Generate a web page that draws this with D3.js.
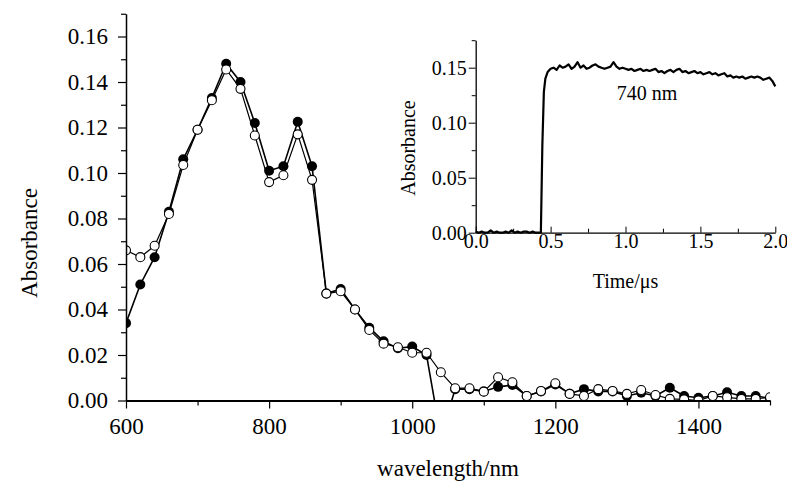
<!DOCTYPE html>
<html>
<head>
  <script src="https://cdnjs.cloudflare.com/ajax/libs/d3/7.8.5/d3.min.js"></script>
  <style>
    body { margin: 0; background: #fff; }
    text { font-family: "Liberation Serif", "Times New Roman", serif; fill: #000; }
    .axis path, .axis line { stroke: #000; }
    .axis text { font-family: "Liberation Serif", "Times New Roman", serif; fill: #000; }
  </style>
</head>
<body>
  <div id="graph"></div>
  <script>
    // Main spectrum data (every 20 nm)
    const wavelengths = d3.range(600, 1501, 20);
    const filledAbs = [
      0.034, 0.051, 0.063, 0.083, 0.106, 0.119, 0.133, 0.148, 0.140, 0.122,
      0.101, 0.103, 0.1225, 0.103, 0.047, 0.049, 0.040, 0.032, 0.026, 0.023,
      0.0237, 0.020, -0.016, 0.005, 0.005, 0.004, 0.006, 0.0068, 0.002, 0.004,
      0.007, 0.003, 0.005, 0.004, 0.004, 0.002, 0.0034, 0.002, 0.0056, 0.002,
      0.0012, 0.002, 0.0036, 0.002, 0.002, 0.001
    ];
    const openAbs = [
      0.066, 0.063, 0.068, 0.082, 0.1035, 0.119, 0.132, 0.1455, 0.137, 0.1165,
      0.096, 0.099, 0.117, 0.097, 0.047, 0.048, 0.040, 0.031, 0.025, 0.0234,
      0.021, 0.021, 0.0124, 0.0054, 0.0054, 0.0039, 0.0102, 0.008, 0.002, 0.0042,
      0.0076, 0.0029, 0.002, 0.005, 0.0042, 0.0029, 0.0046, 0.0024, 0.0007, 0.0005,
      0.000, 0.002, 0.0014, 0.0007, 0.0007, 0.0014
    ];
    const mainYTicks = [0, 0.02, 0.04, 0.06, 0.08, 0.10, 0.12, 0.14, 0.16];
    const mainYMinor = [0.01, 0.03, 0.05, 0.07, 0.09, 0.11, 0.13, 0.15, 0.17];
    const mainXTicks = [600, 800, 1000, 1200, 1400];
    const mainXMinor = [700, 900, 1100, 1300, 1500];

    // Inset kinetic trace at 740 nm
    const traceTime = [
      0.00, 0.02, 0.04, 0.06, 0.08, 0.10, 0.12, 0.14, 0.16, 0.18, 0.20, 0.22,
      0.24, 0.26, 0.28, 0.30, 0.32, 0.34, 0.36, 0.38, 0.40, 0.42, 0.435, 0.445,
      0.455, 0.465, 0.48, 0.50, 0.52, 0.54, 0.56, 0.58, 0.60, 0.62, 0.64, 0.66,
      0.68, 0.70, 0.72, 0.74, 0.76, 0.78, 0.80, 0.82, 0.84, 0.86, 0.88, 0.90,
      0.92, 0.94, 0.96, 0.98, 1.00, 1.02, 1.04, 1.06, 1.08, 1.10, 1.12, 1.14,
      1.16, 1.18, 1.20, 1.22, 1.24, 1.26, 1.28, 1.30, 1.32, 1.34, 1.36, 1.38,
      1.40, 1.42, 1.44, 1.46, 1.48, 1.50, 1.52, 1.54, 1.56, 1.58, 1.60, 1.62,
      1.64, 1.66, 1.68, 1.70, 1.72, 1.74, 1.76, 1.78, 1.80, 1.82, 1.84, 1.86,
      1.88, 1.90, 1.92, 1.94, 1.96, 1.98, 2.00
    ];
    const traceAbs = [
      0.001, 0.000, 0.001, 0.000, 0.000, 0.002, 0.000, 0.001, 0.000, 0.000, 0.001, 0.000,
      0.002, 0.000, 0.001, 0.000, 0.001, 0.001, 0.000, 0.001, 0.000, 0.000, 0.000, 0.080,
      0.128, 0.140, 0.146, 0.149, 0.150, 0.148, 0.152, 0.150, 0.151, 0.153, 0.149, 0.151,
      0.155, 0.150, 0.152, 0.149, 0.150, 0.152, 0.153, 0.151, 0.150, 0.149, 0.150, 0.151,
      0.155, 0.151, 0.149, 0.150, 0.149, 0.148, 0.149, 0.147, 0.148, 0.149, 0.147, 0.148,
      0.147, 0.148, 0.149, 0.146, 0.147, 0.145, 0.147, 0.148, 0.146, 0.148, 0.149, 0.146,
      0.147, 0.145, 0.146, 0.147, 0.145, 0.146, 0.144, 0.145, 0.146, 0.144, 0.145, 0.143,
      0.144, 0.145, 0.142, 0.143, 0.141, 0.142, 0.141, 0.142, 0.140, 0.141, 0.142, 0.141,
      0.142, 0.141, 0.139, 0.140, 0.141, 0.138, 0.133
    ];
    const insetYTicks = [0, 0.05, 0.10, 0.15];
    const insetYMinor = [0.025, 0.075, 0.125, 0.175];
    const insetXTicks = [0, 0.5, 1.0, 1.5, 2.0];
    const insetXMinor = [0.25, 0.75, 1.25, 1.75];

    const serif = '"Liberation Serif", "Times New Roman", serif';

    const svg = d3.select("#graph")
      .append("svg")
        .attr("width", 787)
        .attr("height", 482);

    // ---- main chart ----
    const x = d3.scaleLinear().domain([600, 1500]).range([126, 770]);
    const y = d3.scaleLinear().domain([0, 0.17]).range([400.5, 13.75]);

    svg.append("clipPath").attr("id", "plotClip")
      .append("rect")
        .attr("x", x(600)).attr("y", y(0.17))
        .attr("width", x(1500) - x(600))
        .attr("height", y(0) - y(0.17));

    const plot = svg.append("g").attr("clip-path", "url(#plotClip)");

    const filledPts = wavelengths.map((w, i) => [w, filledAbs[i]]);
    const openPts = wavelengths.map((w, i) => [w, openAbs[i]]);
    const line = d3.line().x(d => x(d[0])).y(d => y(d[1]));

    plot.append("path").datum(filledPts)
      .attr("fill", "none").attr("stroke", "#000").attr("stroke-width", 1.6)
      .attr("d", line);
    plot.append("path").datum(openPts)
      .attr("fill", "none").attr("stroke", "#000").attr("stroke-width", 1.2)
      .attr("d", line);

    plot.selectAll(".filled").data(filledPts).join("circle")
      .attr("class", "filled")
      .attr("cx", d => x(d[0])).attr("cy", d => y(d[1]))
      .attr("r", 5).attr("fill", "#000");

    plot.selectAll(".open").data(openPts).join("circle")
      .attr("class", "open")
      .attr("cx", d => x(d[0])).attr("cy", d => y(d[1]))
      .attr("r", 4.5).attr("fill", "#fff").attr("stroke", "#000").attr("stroke-width", 1.1);

    // axes
    const yAxis = svg.append("g").attr("class", "axis")
      .attr("transform", `translate(${x(600)},0)`)
      .call(d3.axisLeft(y).tickValues(mainYTicks).tickFormat(d3.format(".2f"))
        .tickSizeInner(8).tickSizeOuter(0).tickPadding(10));
    yAxis.attr("font-family", serif);
    yAxis.selectAll("text").style("font-size", "23px");
    yAxis.select(".domain").attr("stroke-width", 1.5);
    yAxis.selectAll(".tick line").attr("stroke-width", 1.2);

    const yMinor = svg.append("g").attr("class", "axis")
      .attr("transform", `translate(${x(600)},0)`)
      .call(d3.axisLeft(y).tickValues(mainYMinor).tickFormat("").tickSizeInner(5).tickSizeOuter(0));
    yMinor.select(".domain").remove();
    yMinor.selectAll(".tick line").attr("stroke-width", 1.2);

    const xAxis = svg.append("g").attr("class", "axis")
      .attr("transform", `translate(0,${y(0)})`)
      .call(d3.axisBottom(x).tickValues(mainXTicks).tickFormat(d3.format("d"))
        .tickSizeInner(8).tickSizeOuter(0).tickPadding(9));
    xAxis.attr("font-family", serif);
    xAxis.selectAll("text").style("font-size", "23px");
    xAxis.select(".domain").attr("stroke-width", 2);
    xAxis.selectAll(".tick line").attr("stroke-width", 1.2);

    const xMinor = svg.append("g").attr("class", "axis")
      .attr("transform", `translate(0,${y(0)})`)
      .call(d3.axisBottom(x).tickValues(mainXMinor).tickFormat("").tickSizeInner(5).tickSizeOuter(0));
    xMinor.select(".domain").remove();
    xMinor.selectAll(".tick line").attr("stroke-width", 1.2);

    svg.append("text")
      .attr("transform", "translate(37,243) rotate(-90)")
      .attr("text-anchor", "middle")
      .style("font-size", "23px")
      .text("Absorbance");

    svg.append("text")
      .attr("x", 448).attr("y", 476)
      .attr("text-anchor", "middle")
      .style("font-size", "23px")
      .text("wavelength/nm");

    // ---- inset ----
    const ix = d3.scaleLinear().domain([0, 2]).range([475.7, 775.3]);
    const iy = d3.scaleLinear().domain([0, 0.175]).range([232.7, 40.2]);

    svg.append("path")
      .datum(traceTime.map((t, i) => [t, traceAbs[i]]))
      .attr("fill", "none").attr("stroke", "#000").attr("stroke-width", 2.2)
      .attr("stroke-linejoin", "round")
      .attr("d", d3.line().x(d => ix(d[0])).y(d => iy(d[1])));

    const iyAxis = svg.append("g").attr("class", "axis")
      .attr("transform", `translate(${ix(0)},0)`)
      .call(d3.axisLeft(iy).tickValues(insetYTicks).tickFormat(d3.format(".2f"))
        .tickSizeInner(7).tickSizeOuter(0).tickPadding(2));
    iyAxis.attr("font-family", serif);
    iyAxis.selectAll("text").style("font-size", "20px");
    iyAxis.select(".domain").attr("stroke-width", 1.3);

    const iyMinor = svg.append("g").attr("class", "axis")
      .attr("transform", `translate(${ix(0)},0)`)
      .call(d3.axisLeft(iy).tickValues(insetYMinor).tickFormat("").tickSizeInner(4).tickSizeOuter(0));
    iyMinor.select(".domain").remove();

    const ixAxis = svg.append("g").attr("class", "axis")
      .attr("transform", `translate(0,${iy(0)})`)
      .call(d3.axisBottom(ix).tickValues(insetXTicks).tickFormat(d3.format(".1f"))
        .tickSizeInner(-6).tickSizeOuter(0).tickPadding(1));
    ixAxis.attr("font-family", serif);
    ixAxis.selectAll("text").style("font-size", "20px");
    ixAxis.select(".domain").attr("stroke-width", 1.3);

    const ixMinor = svg.append("g").attr("class", "axis")
      .attr("transform", `translate(0,${iy(0)})`)
      .call(d3.axisBottom(ix).tickValues(insetXMinor).tickFormat("").tickSizeInner(-4).tickSizeOuter(0));
    ixMinor.select(".domain").remove();

    svg.append("text")
      .attr("transform", "translate(415,148) rotate(-90)")
      .attr("text-anchor", "middle")
      .style("font-size", "20px")
      .text("Absorbance");

    svg.append("text")
      .attr("x", ix(1.0)).attr("y", 288)
      .attr("text-anchor", "middle")
      .style("font-size", "20px")
      .text("Time/\u03bcs");

    svg.append("text")
      .attr("x", 647).attr("y", 100)
      .attr("text-anchor", "middle")
      .style("font-size", "20px")
      .text("740 nm");
  </script>
</body>
</html>
